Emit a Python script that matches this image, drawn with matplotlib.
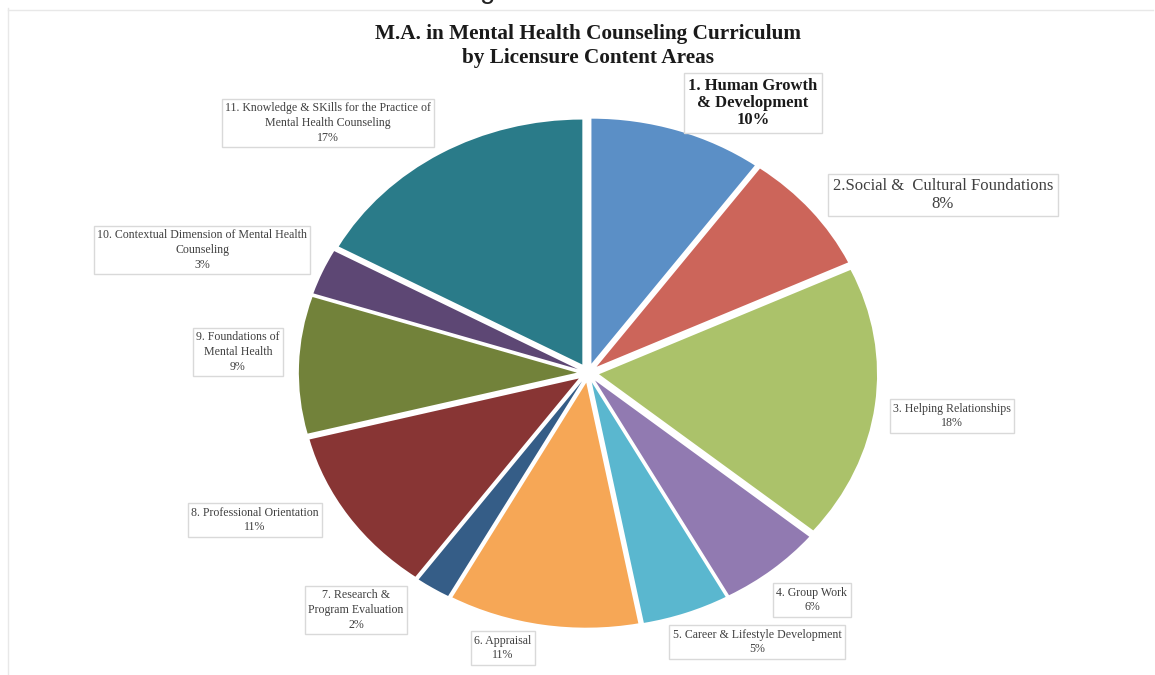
import matplotlib
matplotlib.use("Agg")
import matplotlib.pyplot as plt
from matplotlib.lines import Line2D

W, H = 1155, 675

labels = ["1. Human Growth\n& Development", "2.Social &  Cultural Foundations",
          "3. Helping Relationships", "4. Group Work",
          "5. Career & Lifestyle Development", "6. Appraisal",
          "7. Research &\nProgram Evaluation", "8. Professional Orientation",
          "9. Foundations of\nMental Health",
          "10. Contextual Dimension of Mental Health\nCounseling",
          "11. Knowledge & SKills for the Practice of\nMental Health Counseling"]
values = [10, 8, 18, 6, 5, 11, 2, 11, 9, 3, 17]
colors = ["#5B8FC6", "#CC655A", "#ABC26A", "#917AB1", "#5AB7CF", "#F6A756",
          "#355D87", "#883534", "#72823A", "#5D4774", "#2A7B89"]
title = "M.A. in Mental Health Counseling Curriculum\nby Licensure Content Areas"

fig = plt.figure(figsize=(W / 100, H / 100), dpi=100)
fig.patch.set_facecolor("white")

# pie axes (elliptical pie as in the reference)
cx, cy = 588, 373
rx, ry = 278, 245
L = 1.3
aw, ah = 2 * L * rx, 2 * L * ry
ax = fig.add_axes([(cx - aw / 2) / W, (H - cy - ah / 2) / H, aw / W, ah / H])
ax.pie(values, colors=colors, startangle=90, counterclock=False,
       explode=[0.04] * len(values), wedgeprops=dict(linewidth=0))
ax.set_aspect("auto")
ax.set_xlim(-L, L)
ax.set_ylim(-L, L)
ax.axis("off")

serif = "Liberation Serif"
fig.text(588 / W, 1 - 46 / H, title, ha="center", va="center",
         fontsize=15.3, fontweight="bold", family=serif, color="#1a1a1a",
         linespacing=1.22)

# label positions (pixel centres) and styles
pos = [(753, 103), (943, 195), (952, 416), (812, 600), (757, 642), (503, 648),
       (356, 610), (255, 520), (238, 352), (202, 250), (328, 123)]
for i, (lab, v) in enumerate(zip(labels, values)):
    x, y = pos[i]
    txt = f"{lab}\n{v}%"
    if i == 0:
        fs, fw, col, ls = 12, "bold", "#1a1a1a", 1.12
    elif i == 1:
        fs, fw, col, ls = 12, "normal", "#404040", 1.12
    else:
        fs, fw, col, ls = 8.6, "normal", "#404040", 1.28
    fig.text(x / W, 1 - y / H, txt, ha="center", va="center", fontsize=fs,
             fontweight=fw, family=serif, color=col, linespacing=ls,
             bbox=dict(boxstyle="square,pad=0.28", fc="white",
                       ec="#d9d9d9", lw=1.0))

# outer frame lines and clipped heading fragment from the source page
fig.add_artist(Line2D([7.5 / W, 7.5 / W], [0, 1 - 8 / H], color="#e8e8e8",
                      lw=1, transform=fig.transFigure))
fig.add_artist(Line2D([7.5 / W, 1153 / W], [1 - 10 / H, 1 - 10 / H],
                      color="#e8e8e8", lw=1, transform=fig.transFigure))
fig.text(480 / W, 1 + 2 / H, "g", ha="left", va="baseline", fontsize=20,
         family="Liberation Sans", color="#222222")

fig.savefig("out.png", dpi=100, facecolor="white")
